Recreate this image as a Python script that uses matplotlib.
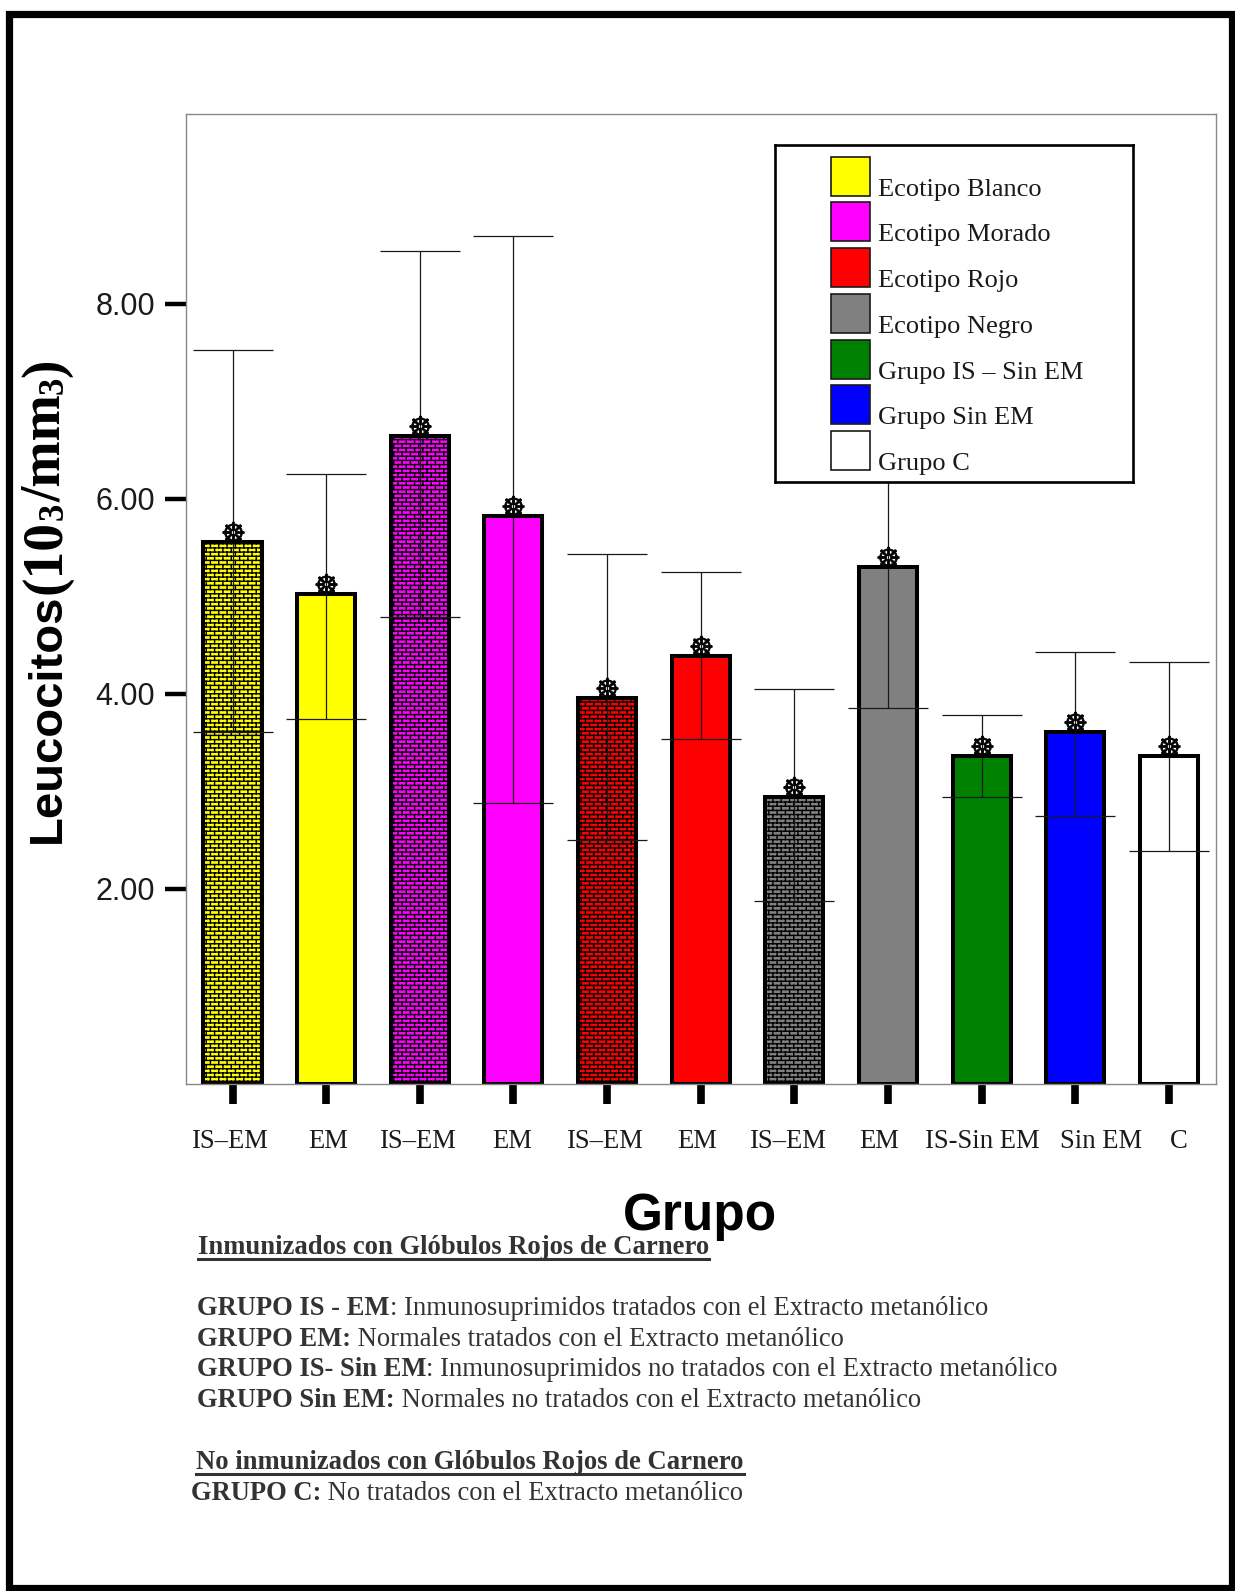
import warnings
import numpy as np
import matplotlib
matplotlib.use("Agg")
import matplotlib.pyplot as plt
import matplotlib.hatch as mhatch
import matplotlib.transforms as mtransforms
from matplotlib.patches import Rectangle
from matplotlib.lines import Line2D
from matplotlib.path import Path

warnings.filterwarnings("ignore", message="hatch must consist")

# data
group_labels = ["IS\u2013EM", "EM", "IS\u2013EM", "EM", "IS\u2013EM", "EM",
                "IS\u2013EM", "EM", "IS-Sin EM", "Sin EM", "C"]
means = [5.56, 5.02, 6.64, 5.82, 3.96, 4.39, 2.94, 5.30, 3.36, 3.61, 3.36]
ci_low = [3.61, 3.74, 4.79, 2.88, 2.50, 3.54, 1.88, 3.85, 2.94, 2.75, 2.39]
ci_high = [7.53, 6.26, 8.54, 8.70, 5.43, 5.25, 4.05, 6.76, 3.78, 4.43, 4.33]
bar_series = [0, 0, 1, 1, 2, 2, 3, 3, 4, 5, 6]
brick_bars = [True, False, True, False, True, False, True, False, False, False, False]

series_names = ["Ecotipo Blanco", "Ecotipo Morado", "Ecotipo Rojo", "Ecotipo Negro",
                "Grupo IS \u2013 Sin EM", "Grupo Sin EM", "Grupo C"]
series_colors = ["#ffff00", "#ff00ff", "#ff0000", "#808080", "#008000", "#0000ff", "#ffffff"]

yticks = [2, 4, 6, 8]

heading_1 = "Inmunizados con Gl\u00f3bulos Rojos de Carnero"
notes_1 = [("GRUPO IS - EM", ": Inmunosuprimidos tratados con el Extracto metan\u00f3lico"),
           ("GRUPO EM:", " Normales tratados con el Extracto metan\u00f3lico"),
           ("GRUPO IS- Sin EM", ": Inmunosuprimidos no tratados con el Extracto metan\u00f3lico"),
           ("GRUPO Sin EM:", " Normales no tratados con el Extracto metan\u00f3lico")]
heading_2 = "No inmunizados con Gl\u00f3bulos Rojos de Carnero"
notes_2 = [("GRUPO C:", " No tratados con el Extracto metan\u00f3lico")]

W, H = 1235, 1591
# pixel coords with origin at top left
PX = mtransforms.Affine2D().scale(1, -1).translate(0, H)
SERIF = "Liberation Serif"
SANS = "Liberation Sans"
# small sideways nudges (px) of the group names, as in the original
label_nudge = [-2, 2, -1, -1, -2, -4, -6, -9, 1, 26, 10]


class BrickHatch(mhatch.HatchPatternBase):
    """brick wall texture, one step of density per 'b' in the hatch string"""

    def __init__(self, hatch, density):
        n = int(hatch.count("b") * density)
        n += n % 2
        self.segs = []
        cols = n // 2
        for r in range(n):
            y = (r + 0.5) / n
            top = (r + 1.5) / n
            self.segs.append(((0.0, y), (1.0, y)))
            for c in range(cols):
                xv = (c + 0.25 + 0.5 * (r % 2)) / cols
                if top > 1:
                    self.segs.append(((xv, y), (xv, 1.0)))
                    self.segs.append(((xv, 0.0), (xv, top - 1.0)))
                else:
                    self.segs.append(((xv, y), (xv, top)))
        self.num_vertices = 2 * len(self.segs)

    def set_vertices_and_codes(self, vertices, codes):
        vertices[:] = np.array(self.segs, dtype=float).reshape(-1, 2)
        codes[0::2] = Path.MOVETO
        codes[1::2] = Path.LINETO


mhatch._hatch_types.append(BrickHatch)


def write_line(fig, r, x, y, pieces, underline=False):
    """pieces of text side by side on one baseline"""
    x0 = x
    for s, weight in pieces:
        t = fig.text(x, y, s, transform=PX, ha="left", va="baseline",
                     family=SERIF, size=19.2, weight=weight, color="#333333")
        x += t.get_window_extent(r).width
    if underline:
        fig.add_artist(Line2D([x0, x], [y + 5, y + 5], transform=PX,
                              color="#333333", lw=2.2))


def write_up(fig, r, x, y, pieces):
    """pieces of text reading bottom to top"""
    for s, family, size, dx in pieces:
        t = fig.text(x + dx, y, s, transform=PX, rotation=90, rotation_mode="anchor",
                     ha="left", va="baseline", family=family, size=size,
                     weight="bold", color="black")
        y = H - t.get_window_extent(r).y1


def main():
    plt.rcParams["font.family"] = [SANS, "DejaVu Sans"]
    plt.rcParams["hatch.linewidth"] = 1.0

    fig = plt.figure(figsize=(W / 100, H / 100), dpi=100)
    r = fig.canvas.get_renderer()

    ax = fig.add_axes([185.7 / W, 1 - 1083.8 / H, 1030 / W, 970 / H])
    x = np.arange(len(means))
    m = np.array(means)
    colors = [series_colors[s] for s in bar_series]
    bars = ax.bar(x, m, width=0.62, color=colors, edgecolor="black",
                  linewidth=2.9, zorder=2)
    for b, brick in zip(bars, brick_bars):
        if brick:
            b.set_hatch("bbbb")

    err = [m - np.array(ci_low), np.array(ci_high) - m]
    ax.errorbar(x, m, yerr=err, fmt="none", ecolor="#1a1a1a", elinewidth=0.9,
                capsize=29, capthick=0.9, zorder=3)
    lifted = mtransforms.offset_copy(ax.transData, fig=fig, y=10, units="dots")
    ax.plot(x, m, ls="none", marker="$\u2638$", ms=15.5, color="black",
            mew=0.6, transform=lifted, zorder=4, clip_on=False)

    ax.set_xlim(-0.5, 10.5)
    ax.set_ylim(0, 9.95)
    ax.set_xticks(x)
    ax.set_xticklabels([])
    for xi, lab, dx in zip(x, group_labels, label_nudge):
        tr = mtransforms.offset_copy(ax.get_xaxis_transform(), fig=fig, x=dx, units="dots")
        ax.text(xi, -0.0662, lab, transform=tr, ha="center", va="baseline",
                family=SERIF, fontsize=19.2, color="#1a1a1a")
    ax.set_yticks(yticks)
    ax.set_yticklabels(["%.2f" % v for v in yticks], fontsize=22, color="#1a1a1a")
    ax.tick_params(axis="x", length=14.5, width=5.5, color="black")
    ax.tick_params(axis="y", length=15, width=3.2, pad=7, color="black")
    for sp in ax.spines.values():
        sp.set_color("#888888")
        sp.set_linewidth(1)

    # legend box, drawn by hand so the last entry gets cut like the original
    lax = fig.add_axes([775 / W, 1 - 482 / H, 358 / W, 337 / H], zorder=5)
    lax.set_xlim(0, 358)
    lax.set_ylim(337, 0)
    lax.set_xticks([])
    lax.set_yticks([])
    for sp in lax.spines.values():
        sp.set_color("black")
        sp.set_linewidth(1.9)
    clip = Rectangle((0, 0), 358, 325.5, transform=lax.transData)
    for i, (name, c) in enumerate(zip(series_names, series_colors)):
        lax.add_patch(Rectangle((55.7, 11.7 + 45.7 * i), 39, 39, facecolor=c,
                                edgecolor="#1a1a1a", lw=1.2))
        t = lax.text(103, 50.7 + 45.7 * i, name, family=SERIF, size=19,
                     va="baseline", ha="left", color="#1a1a1a")
        t.set_clip_path(clip)

    # axis titles
    write_up(fig, r, 60, 843, [("Leucocitos", SANS, 34, 0),
                                ("(10", SERIF, 40, 0),
                                ("3", SERIF, 25, 3),
                                ("/mm", SERIF, 40, 0),
                                ("3", SERIF, 25, 3),
                                (")", SERIF, 40, 0)])
    fig.text(700, 1230, "Grupo", transform=PX, ha="center", va="baseline",
             size=37, weight="bold", color="black")

    # notes under the chart
    write_line(fig, r, 198, 1254, [(heading_1, "bold")], underline=True)
    y = 1315
    for bold, rest in notes_1:
        write_line(fig, r, 197, y, [(bold, "bold"), (rest, "normal")])
        y += 30.7
    write_line(fig, r, 196, 1469, [(heading_2, "bold")], underline=True)
    for bold, rest in notes_2:
        write_line(fig, r, 191, 1500, [(bold, "bold"), (rest, "normal")])

    # page frame
    fig.add_artist(Rectangle((8.5, 13.5), 1223, 1574.5, transform=PX, fill=False,
                             edgecolor="black", lw=5.2))

    fig.savefig("out.png", dpi=100)


if __name__ == "__main__":
    main()
